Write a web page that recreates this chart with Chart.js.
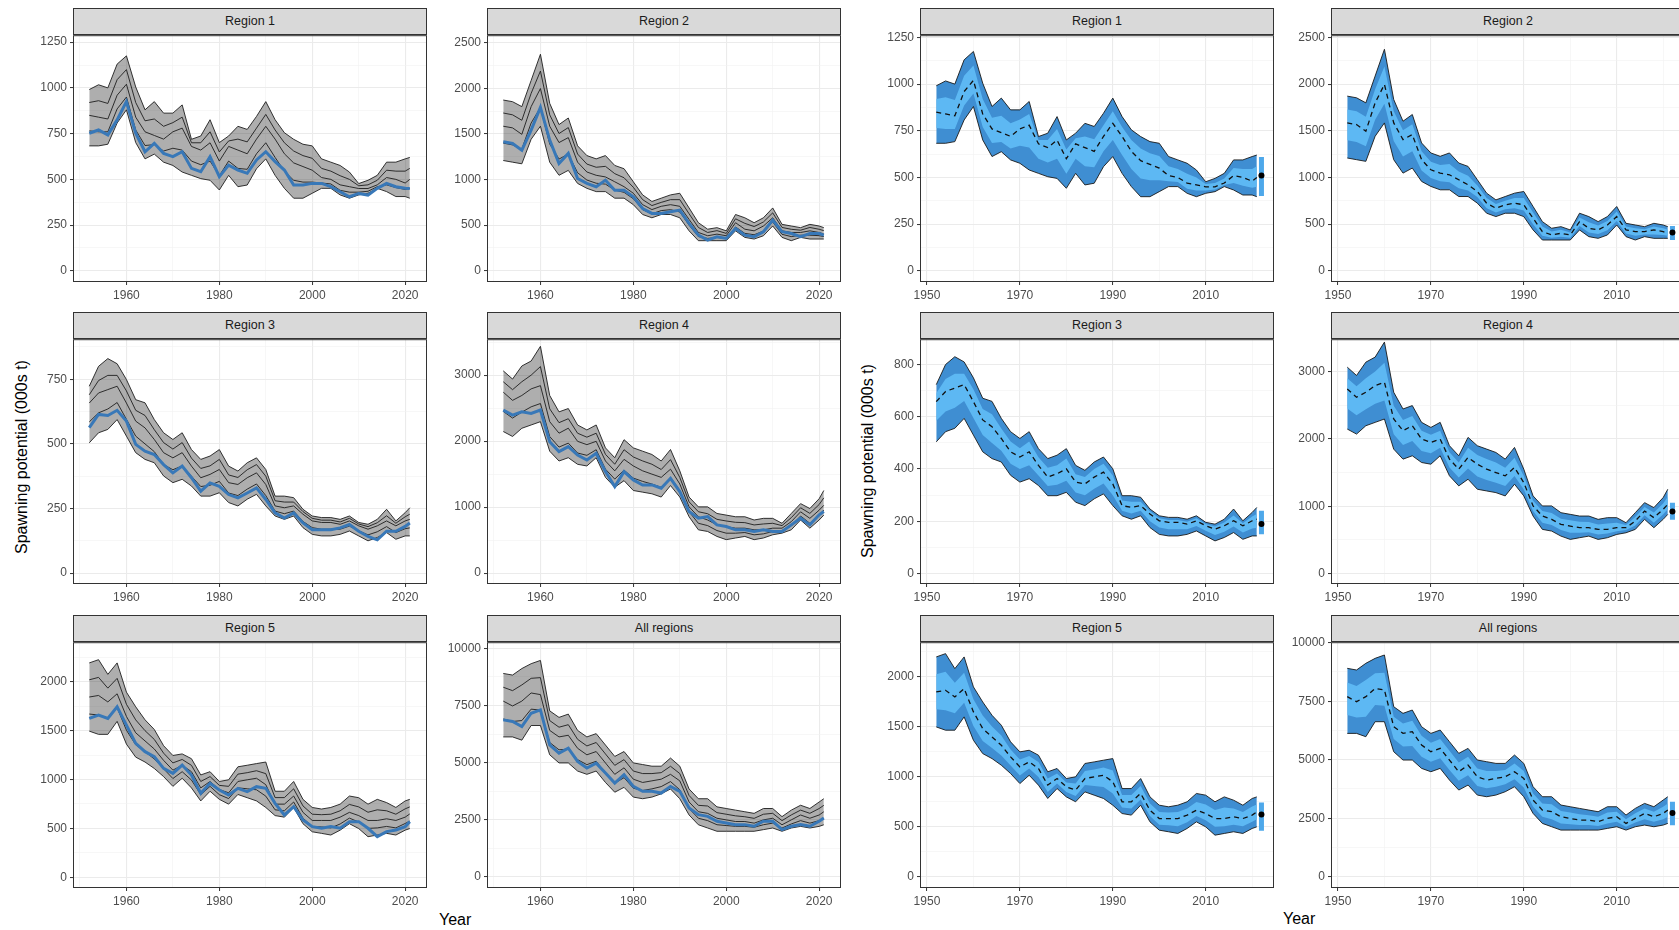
<!DOCTYPE html>
<html>
<head>
<meta charset="utf-8">
<script src="https://cdn.jsdelivr.net/npm/chart.js@4.4.1/dist/chart.umd.min.js"></script>
<style>
  body { margin: 0; width: 1679px; height: 930px; overflow: hidden; background: #fff; position: relative;
         font-family: 'Liberation Sans', Arial, sans-serif; }
  canvas { position: absolute; }
  .strip { position: absolute; height: 27px; background: #d9d9d9; border: 1px solid #333; box-sizing: border-box;
           text-align: center; font-size: 12.5px; line-height: 25px; color: #1a1a1a; z-index: 2; }
  .ytitle { position: absolute; font-size: 16px; color: #000; white-space: nowrap;
            transform: translate(-50%, -50%) rotate(-90deg); }
  .xtitle { position: absolute; font-size: 16px; color: #000; }
</style>
</head>
<body>
<div class="ytitle" style="left:22px;top:457px">Spawning potential (000s t)</div>
<div class="ytitle" style="left:868px;top:461px">Spawning potential (000s t)</div>
<div class="xtitle" style="left:439px;top:911px">Year</div>
<div class="xtitle" style="left:1283px;top:910px">Year</div>
<script>
// years sampled every 2 years + final year
const YEARS = [1952,1954,1956,1958,1960,1962,1964,1966,1968,1970,1972,1974,1976,1978,1980,1982,1984,1986,
               1988,1990,1992,1994,1996,1998,2000,2002,2004,2006,2008,2010,2012,2014,2016,2018,2020,2021]
const END_YEAR = 2022

const LEFT_X_TICKS = [1960, 1980, 2000, 2020]
const RIGHT_X_TICKS = [1950, 1970, 1990, 2010]

// Region 1
const R1_UPPER  = [991,1017,1000,1130,1175,1005,880,925,862,862,907,719,737,826,701,737,790,773,844,925,826,755,719,692,683,612,594,576,540,477,495,522,594,594,612,620]
const R1_Q75    = [920,930,915,1045,1100,920,820,830,790,810,840,700,700,760,650,710,720,705,780,855,770,700,655,630,615,560,545,520,500,465,470,495,550,545,545,560]
const R1_MEDIAN = [850,840,830,960,1020,840,760,740,720,760,780,680,660,700,600,680,660,640,720,790,720,640,590,570,550,510,500,470,460,450,450,470,510,500,480,500]
const R1_Q25    = [765,760,760,885,950,770,685,690,655,670,660,600,580,600,520,600,560,555,640,700,620,545,495,485,485,480,475,440,430,430,435,460,470,455,445,450]
const R1_LOWER  = [683,683,692,808,880,701,612,638,594,576,540,522,504,495,442,522,460,469,558,612,522,451,397,397,424,451,451,415,397,415,424,451,433,406,406,397]
const R1_BLUE   = [752,770,743,825,925,752,651,697,642,624,651,560,542,624,515,578,551,533,606,651,597,551,469,469,478,478,460,432,405,423,414,451,478,460,451,450]
const R1_END    = [400, 510, 610]
const R1_Y_TICKS = [0, 250, 500, 750, 1000, 1250]

// Region 2
const R2_UPPER  = [1872,1854,1800,2087,2374,1836,1603,1675,1370,1263,1227,1263,1155,1119,976,832,760,796,832,850,689,527,456,473,438,617,581,527,581,689,509,491,473,509,491,473]
const R2_Q75    = [1730,1710,1650,1945,2190,1710,1505,1570,1280,1170,1135,1145,1065,1020,915,780,715,750,780,780,625,475,420,440,410,570,520,485,535,635,475,455,445,475,455,440]
const R2_MEDIAN = [1585,1567,1496,1800,1998,1585,1406,1460,1191,1083,1047,1029,976,922,850,725,671,707,725,707,563,420,384,402,384,527,456,438,491,581,438,420,420,438,420,402]
const R2_Q25    = [1400,1380,1335,1620,1790,1390,1225,1280,1075,995,960,950,885,860,790,670,625,660,670,645,500,375,355,365,355,480,410,395,435,535,400,375,390,390,385,375]
const R2_LOWER  = [1209,1191,1173,1442,1585,1191,1047,1101,958,904,868,868,796,796,725,617,581,617,617,581,438,330,330,330,330,438,366,348,384,491,366,330,366,348,348,348]
const R2_BLUE   = [1414,1396,1323,1542,1791,1433,1177,1287,1012,958,921,994,884,884,811,683,629,629,647,665,519,391,336,373,355,464,391,373,428,556,428,409,373,409,409,391]
const R2_END    = [330, 410, 480]
const R2_Y_TICKS = [0, 500, 1000, 1500, 2000, 2500]

// Region 3
const R3_UPPER  = [723,800,830,810,749,671,659,594,543,517,543,478,440,453,478,414,395,427,446,401,298,298,292,247,221,215,215,208,221,196,189,208,247,202,234,253]
const R3_Q75    = [690,745,765,765,705,630,610,555,505,480,505,445,405,415,440,380,370,400,420,375,280,275,275,238,212,205,205,198,212,190,180,195,222,193,218,228]
const R3_MEDIAN = [658,697,710,723,658,588,562,517,466,446,466,414,369,382,401,350,343,369,388,343,260,253,260,228,202,196,196,189,202,183,170,183,202,183,202,208]
const R3_Q25    = [585,620,635,660,595,530,500,470,420,400,415,375,335,340,355,310,300,325,345,300,240,230,240,200,176,170,170,170,182,164,148,160,180,157,172,175]
const R3_LOWER  = [504,543,556,594,530,466,440,427,376,350,363,337,298,298,311,273,260,286,305,260,221,208,221,176,150,144,144,150,163,144,125,138,157,131,144,144]
const R3_BLUE   = [563,614,610,630,588,498,472,459,420,388,414,369,317,349,336,304,291,310,330,285,233,213,233,194,168,168,168,175,188,162,142,129,162,162,181,194]
const R3_END    = [150, 190, 240]
const R3_LEFT_Y_TICKS = [0, 250, 500, 750]
const R3_RIGHT_Y_TICKS = [0, 200, 400, 600, 800]

// Region 4
const R4_UPPER  = [3065,2941,3139,3214,3437,2692,2444,2494,2245,2170,2245,1898,1749,2022,1898,1848,1798,1699,1873,1550,1153,1004,1004,904,879,854,854,805,830,830,755,904,1053,979,1128,1252]
const R4_Q75    = [2900,2780,2900,3000,3130,2490,2280,2340,2120,2060,2120,1800,1650,1870,1760,1700,1650,1570,1720,1450,1080,930,900,815,790,770,765,730,745,755,720,840,990,905,1040,1140]
const R4_MEDIAN = [2742,2618,2692,2792,2841,2295,2121,2196,1997,1947,1997,1699,1550,1724,1624,1550,1500,1451,1575,1351,1004,854,805,730,705,681,681,656,656,681,681,780,929,830,954,1028]
const R4_Q25    = [2450,2350,2440,2520,2570,2070,1910,1970,1820,1785,1870,1575,1425,1560,1440,1390,1350,1300,1450,1250,930,755,720,645,605,605,615,580,595,630,645,715,865,755,880,955]
const R4_LOWER  = [2146,2071,2195,2245,2295,1848,1699,1749,1649,1624,1749,1451,1302,1401,1252,1227,1202,1153,1327,1153,854,656,631,556,507,532,556,507,532,581,606,656,805,681,805,879]
const R4_BLUE   = [2471,2395,2446,2420,2471,1992,1841,1916,1790,1715,1815,1538,1311,1538,1412,1336,1336,1286,1437,1235,933,832,857,731,706,656,656,630,656,630,630,731,832,731,883,933]
const R4_END    = [800, 920, 1050]
const R4_Y_TICKS = [0, 1000, 2000, 3000]

// Region 5
const R5_UPPER  = [2193,2226,2076,2193,1894,1744,1611,1512,1346,1246,1262,1213,1047,1080,980,997,1130,1146,1163,1179,880,880,980,797,714,698,714,748,831,814,748,797,764,714,781,797]
const R5_Q75    = [2020,2045,1935,2035,1770,1610,1500,1410,1270,1170,1205,1145,980,1030,940,930,1055,1070,1090,1060,815,815,905,730,645,640,645,680,745,720,665,690,680,645,700,720]
const R5_MEDIAN = [1844,1860,1794,1877,1645,1478,1395,1312,1196,1096,1146,1080,914,980,897,864,980,997,1013,947,748,748,831,664,581,581,581,615,664,631,581,581,598,581,615,648]
const R5_Q25    = [1670,1660,1630,1735,1505,1355,1285,1210,1110,1010,1080,995,845,930,845,805,915,905,895,830,690,680,770,605,520,515,505,545,605,565,500,505,520,505,550,575]
const R5_LOWER  = [1495,1462,1462,1595,1362,1229,1179,1113,1030,930,1013,914,781,880,797,748,847,814,781,714,631,615,714,548,465,449,432,482,548,498,415,432,449,432,482,498]
const R5_BLUE   = [1625,1659,1625,1744,1557,1370,1285,1233,1114,1063,1148,1046,859,961,893,842,910,876,927,910,756,637,722,586,518,501,518,501,569,569,501,416,467,484,518,569]
const R5_END    = [460, 620, 740]
const R5_Y_TICKS = [0, 500, 1000, 1500, 2000]

// All regions
const ALL_UPPER  = [8903,8832,9117,9330,9473,7265,6980,7123,6410,6125,6268,5769,5271,5484,4986,4915,4843,4843,5199,4843,3846,3419,3419,3063,2991,2920,2849,2778,2991,2991,2635,2920,3134,2991,3276,3419]
const ALL_Q75    = [8300,8150,8400,8690,8720,6840,6550,6660,6020,5730,5880,5380,4880,5130,4630,4520,4520,4560,4840,4520,3560,3130,3100,2810,2740,2670,2630,2560,2740,2780,2460,2710,2920,2780,2990,3130]
const ALL_MEDIAN = [7692,7479,7692,8048,7977,6410,6125,6197,5627,5342,5484,4986,4487,4772,4274,4131,4202,4274,4487,4202,3276,2849,2778,2564,2493,2422,2422,2350,2493,2564,2279,2493,2707,2564,2707,2849]
const ALL_Q25    = [6910,6800,6840,7340,7300,5880,5560,5590,5130,4910,5060,4560,4100,4340,3880,3780,3850,3950,4170,3810,2990,2565,2460,2280,2245,2210,2210,2170,2280,2350,2135,2315,2460,2350,2460,2565]
const ALL_LOWER  = [6125,6125,5983,6624,6624,5342,4986,4986,4630,4487,4630,4131,3704,3917,3490,3419,3490,3632,3846,3419,2707,2279,2137,1994,1994,1994,1994,1994,2066,2137,1994,2137,2208,2137,2208,2279]
const ALL_BLUE   = [6870,6798,6579,7162,7307,5779,5415,5633,5051,4760,4978,4541,4105,4469,3959,3741,3741,3668,3959,3741,3013,2722,2649,2431,2358,2285,2285,2212,2431,2431,2067,2212,2285,2212,2431,2576]
const ALL_END    = [2200, 2720, 3200]
const ALL_Y_TICKS = [0, 2500, 5000, 7500, 10000]

const REGIONS = [
  { name: 'Region 1', up: R1_UPPER, q75: R1_Q75, med: R1_MEDIAN, q25: R1_Q25, lo: R1_LOWER, blue: R1_BLUE, end: R1_END,
    leftY: [-61, 1288], rightY: [-60, 1262], leftTicks: R1_Y_TICKS, rightTicks: R1_Y_TICKS },
  { name: 'Region 2', up: R2_UPPER, q75: R2_Q75, med: R2_MEDIAN, q25: R2_Q25, lo: R2_LOWER, blue: R2_BLUE, end: R2_END,
    leftY: [-123, 2583], rightY: [-120, 2525], leftTicks: R2_Y_TICKS, rightTicks: R2_Y_TICKS },
  { name: 'Region 3', up: R3_UPPER, q75: R3_Q75, med: R3_MEDIAN, q25: R3_Q25, lo: R3_LOWER, blue: R3_BLUE, end: R3_END,
    leftY: [-42, 905], rightY: [-40, 897], leftTicks: R3_LEFT_Y_TICKS, rightTicks: R3_RIGHT_Y_TICKS },
  { name: 'Region 4', up: R4_UPPER, q75: R4_Q75, med: R4_MEDIAN, q25: R4_Q25, lo: R4_LOWER, blue: R4_BLUE, end: R4_END,
    leftY: [-165, 3545], rightY: [-155, 3480], leftTicks: R4_Y_TICKS, rightTicks: R4_Y_TICKS },
  { name: 'Region 5', up: R5_UPPER, q75: R5_Q75, med: R5_MEDIAN, q25: R5_Q25, lo: R5_LOWER, blue: R5_BLUE, end: R5_END,
    leftY: [-110, 2405], rightY: [-112, 2340], leftTicks: R5_Y_TICKS, rightTicks: R5_Y_TICKS },
  { name: 'All regions', up: ALL_UPPER, q75: ALL_Q75, med: ALL_MEDIAN, q25: ALL_Q25, lo: ALL_LOWER, blue: ALL_BLUE, end: ALL_END,
    leftY: [-489, 10271], rightY: [-480, 10020], leftTicks: ALL_Y_TICKS, rightTicks: ALL_Y_TICKS }
]

// layout
const COLS = [73, 487, 920, 1331]
const ROWS = [{ strip: 8, top: 35, h: 247 }, { strip: 312, top: 339, h: 245 }, { strip: 615, top: 642, h: 246 }]
const PW = 354, YW = 48, XH = 22, PADT = 10, PADR = 4
const X_LIM = [1948.5, 2024.7]

const FONT = { family: "'Liberation Sans', Arial, sans-serif", size: 12 }

const panelBorder = {
  id: 'panelBorder',
  afterDraw(chart) {
    const a = chart.chartArea, ctx = chart.ctx
    ctx.save()
    ctx.strokeStyle = '#333'
    ctx.lineWidth = 1
    ctx.strokeRect(a.left + 0.5, a.top + 0.5, a.right - a.left - 1, a.bottom - a.top - 1)
    ctx.restore()
  }
}

function axis(lim, major, pos, size) {
  const step = major[1] - major[0]
  let vals = []
  major.forEach(m => vals.push(m - step / 2, m, m + step / 2))
  vals = [...new Set(vals)].filter(v => v >= lim[0] && v <= lim[1]).sort((a, b) => a - b)
  const isMajor = v => major.includes(v)
  return {
    type: 'linear', position: pos, min: lim[0], max: lim[1],
    afterBuildTicks: s => { s.ticks = vals.map(v => ({ value: v })) },
    afterFit: s => { if (pos === 'left') s.width = size; else s.height = size },
    border: { display: false },
    grid: {
      color: c => isMajor(c.tick.value) ? '#ebebeb' : '#f2f2f2',
      lineWidth: c => isMajor(c.tick.value) ? 1.1 : 0.6,
      tickColor: c => isMajor(c.tick.value) ? '#333' : 'rgba(0,0,0,0)',
      tickLength: 3, tickWidth: 1
    },
    ticks: {
      autoSkip: false, maxRotation: 0, padding: 3, color: '#4d4d4d', font: FONT,
      callback: v => isMajor(v) ? String(v) : ''
    }
  }
}

function pts(arr) {
  return arr.map((v, i) => ({ x: YEARS[i], y: v }))
}

function line(data, color, width, extra) {
  return Object.assign({ data: pts(data), borderColor: color, borderWidth: width, pointRadius: 0, fill: false }, extra || {})
}

// grey model runs with a dark band behind them, blue reference run on top
function spaghettiSets(r) {
  const grey = '#1e1e1e'
  return [
    line(r.blue, '#3878b8', 3),
    line(r.up, grey, 0.9, { fill: 5, backgroundColor: 'rgba(30,30,30,0.36)' }),
    line(r.q75, grey, 0.9),
    line(r.med, grey, 0.9),
    line(r.q25, grey, 0.9),
    line(r.lo, grey, 0.9)
  ]
}

function ribbonSets(r) {
  return [
    { type: 'scatter', data: [{ x: END_YEAR, y: r.end[1] }], pointRadius: 3, pointBackgroundColor: '#000', pointBorderWidth: 0 },
    { data: [{ x: END_YEAR, y: r.end[0] }, { x: END_YEAR, y: r.end[2] }], borderColor: '#4ea8ea', borderWidth: 5, pointRadius: 0 },
    line(r.med, '#111', 1.3, { borderDash: [5, 4] }),
    line(r.q75, 'rgba(0,0,0,0)', 0, { fill: 4, backgroundColor: '#5db8f3' }),
    line(r.q25, 'rgba(0,0,0,0)', 0),
    line(r.up, '#1a1a1a', 0.9, { fill: 6, backgroundColor: '#3f8ed2' }),
    line(r.lo, '#1a1a1a', 0.9)
  ]
}

function makePanel(left, row, r, kind) {
  const strip = document.createElement('div')
  strip.className = 'strip'
  strip.style.left = left + 'px'
  strip.style.top = row.strip + 'px'
  strip.style.width = PW + 'px'
  strip.textContent = r.name
  document.body.appendChild(strip)

  const cv = document.createElement('canvas')
  const w = YW + PW + PADR, h = PADT + row.h + XH
  cv.width = w
  cv.height = h
  cv.style.left = (left - YW) + 'px'
  cv.style.top = (row.top - PADT) + 'px'
  cv.style.width = w + 'px'
  cv.style.height = h + 'px'
  document.body.appendChild(cv)

  const isLeft = kind === 'spaghetti'
  new Chart(cv, {
    type: 'line',
    data: { datasets: isLeft ? spaghettiSets(r) : ribbonSets(r) },
    options: {
      responsive: false, animation: false, events: [],
      layout: { padding: { top: PADT, right: PADR, left: 0, bottom: 0 } },
      plugins: { legend: { display: false }, tooltip: { enabled: false }, filler: { drawTime: 'beforeDatasetsDraw' } },
      elements: { line: { tension: 0 } },
      scales: {
        x: axis(X_LIM, isLeft ? LEFT_X_TICKS : RIGHT_X_TICKS, 'bottom', XH),
        y: axis(isLeft ? r.leftY : r.rightY, isLeft ? r.leftTicks : r.rightTicks, 'left', YW)
      }
    },
    plugins: [panelBorder]
  })
}

REGIONS.forEach((r, i) => {
  const row = ROWS[Math.floor(i / 2)]
  const col = i % 2
  makePanel(COLS[col], row, r, 'spaghetti')
  makePanel(COLS[col + 2], row, r, 'ribbon')
})
</script>
</body>
</html>
